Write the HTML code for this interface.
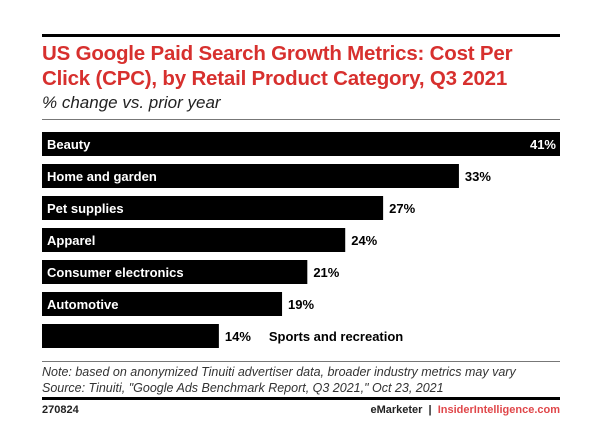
<!DOCTYPE html>
<html><head><meta charset="utf-8"><style>
body{margin:0;background:#fff;font-family:"Liberation Sans",Arial,sans-serif;}
#wrap{position:relative;width:600px;height:439px;overflow:hidden;}
.abs{position:absolute;white-space:nowrap;}
</style></head><body>
<div id="wrap">
<div class="abs" style="left:42px;top:34px;width:518px;height:3px;background:#000"></div>
<div class="abs" style="left:42px;top:41px;color:#d7302e;font-weight:bold;font-size:20.5px;line-height:25px;letter-spacing:-0.2px">US Google Paid Search Growth Metrics: Cost Per<br>Click (CPC), by Retail Product Category, Q3 2021</div>
<div class="abs" style="left:42px;top:93px;font-style:italic;font-size:17px;color:#222">% change vs. prior year</div>
<div class="abs" style="left:42px;top:119px;width:518px;height:1px;background:#777"></div>
<svg class="abs" style="left:0;top:0" width="600" height="439"></svg>
<div class="abs" style="left:42px;top:361px;width:518px;height:1px;background:#777"></div>
<div class="abs" style="left:42px;top:364px;font-style:italic;font-size:12.5px;color:#333;line-height:16px">Note: based on anonymized Tinuiti advertiser data, broader industry metrics may vary<br>Source: Tinuiti, "Google Ads Benchmark Report, Q3 2021," Oct 23, 2021</div>
<div class="abs" style="left:42px;top:397px;width:518px;height:3px;background:#000"></div>
<div class="abs" style="left:42px;top:404px;font-size:11px;font-weight:bold;color:#222">270824</div>
<div class="abs" style="right:40px;top:404px;font-size:11px;font-weight:bold;color:#222">eMarketer &nbsp;|&nbsp; <span style="color:#e0474a">InsiderIntelligence.com</span></div>
</div>
<script>
const categories=["Beauty","Home and garden","Pet supplies","Apparel","Consumer electronics","Automotive","Sports and recreation"];
const values=[41,33,27,24,21,19,14];
const valueLabels=["41%","33%","27%","24%","21%","19%","14%"];
const svg=document.querySelector('svg');
const NS="http://www.w3.org/2000/svg";
const x0=42,pxPer=518/41,top0=132,step=32,bh=24;
function xs(v){return x0+v*pxPer;}
function ys(i){return top0+i*step;}
function t(x,y,s,fill,anchor){const e=document.createElementNS(NS,'text');e.setAttribute('x',x);e.setAttribute('y',y);e.setAttribute('fill',fill);e.setAttribute('font-size','13');e.setAttribute('font-weight','bold');e.setAttribute('font-family','"Liberation Sans",Arial,sans-serif');if(anchor)e.setAttribute('text-anchor',anchor);e.textContent=s;svg.appendChild(e);return e;}
categories.forEach((c,i)=>{
const r=document.createElementNS(NS,'rect');
r.setAttribute('x',x0);r.setAttribute('y',ys(i));r.setAttribute('width',xs(values[i])-x0);r.setAttribute('height',bh);r.setAttribute('fill','#000');


svg.appendChild(r);
const cy=ys(i)+bh/2+5;
const wEnd=xs(values[i]);
const inside=(wEnd-x0)>185;
let lab;
if(inside){lab=t(47,cy,c,'#fff');}
let val;
if(i===0){val=t(wEnd-4,cy,valueLabels[i],'#fff','end');}
else{val=t(wEnd+6,cy,valueLabels[i],'#000');}


if(!inside){lab=t(wEnd+50,cy,c,'#000');}


});
</script>
</body></html>
